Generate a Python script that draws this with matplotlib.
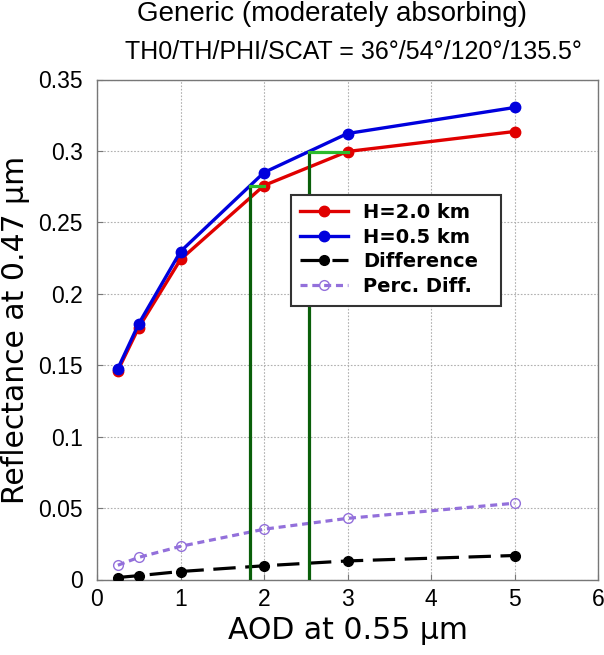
import numpy as np
import matplotlib
matplotlib.use("Agg")
import matplotlib.pyplot as plt
from matplotlib.patches import Rectangle

aod = [0.25, 0.5, 1, 2, 3, 5]
refl_h20 = [0.1463, 0.1764, 0.2240, 0.2758, 0.2996, 0.3136]
refl_h05 = [0.1477, 0.1790, 0.2296, 0.2849, 0.3122, 0.3304]
difference = [0.0014, 0.0027, 0.0056, 0.0096, 0.0130, 0.0168]
perc_diff = [0.0100, 0.0155, 0.0232, 0.0352, 0.0428, 0.0534]
# red-curve points matched on the blue curve
match_x = [2, 3]

xticks = [0, 1, 2, 3, 4, 5, 6]
xticklabels = ["0", "1", "2", "3", "4", "5", "6"]
yticks = [0, 0.05, 0.1, 0.15, 0.2, 0.25, 0.3, 0.35]
yticklabels = ["0", "0.05", "0.1", "0.15", "0.2", "0.25", "0.3", "0.35"]

fig = plt.figure(figsize=(6.04, 6.55), dpi=100)
ax = fig.add_axes([97 / 604, 75.5 / 655, 501 / 604, 500 / 655])

ax.plot(aod, refl_h20, color="#e00000", lw=2.4, marker="o", ms=7.5, label="H=2.0 km", zorder=3)
ax.plot(aod, refl_h05, color="#0000dd", lw=2.4, marker="o", ms=7.5, label="H=0.5 km", zorder=4)
ax.plot(aod, difference, color="black", lw=2.3, ls=(0, (7, 3)), marker="o", ms=7, label="Difference", zorder=3)
ax.plot(aod, perc_diff, color="#9370db", lw=2.3, ls=(0, (2.2, 1.5)), marker="o", ms=7,
        mfc="none", mew=1.0, label="Perc. Diff.", zorder=3)

# green match lines
for xm in match_x:
    yv = refl_h20[aod.index(xm)]
    xc = np.interp(yv, refl_h05, aod)
    ax.plot([xc, xc], [0, yv], color="#0a5f0a", lw=2.3, zorder=5)
    ax.plot([xc, xm], [yv, yv], color="#2cbb2c", lw=2.3, zorder=5)

ax.set_xlim(0, 6)
ax.set_ylim(0, 0.35)
ax.set_xticks(xticks)
ax.set_xticklabels(xticklabels, family="Liberation Sans", fontsize=16.5)
ax.set_yticks(yticks)
ax.set_yticklabels(yticklabels, family="Liberation Sans", fontsize=16.5)
ax.tick_params(direction="in", length=4, color="#777777")
ax.tick_params(axis="x", pad=6)
ax.tick_params(axis="y", pad=10)
ax.grid(True, color="#b0b0b0", ls=(0, (1.5, 1.5)), lw=0.8)
for s in ax.spines.values():
    s.set_color("#777777")
    s.set_linewidth(1.0)

ax.set_xlabel("AOD at 0.55 µm", fontsize=21.5, family="DejaVu Sans", labelpad=4)
ax.set_ylabel("Reflectance at 0.47 µm", fontsize=21.5, family="DejaVu Sans", labelpad=6)

fig.text(332 / 604, 1 - 1 / 655, "Generic (moderately absorbing)", ha="center", va="top",
         fontsize=20, family="Liberation Sans")
fig.text(353 / 604, 1 - 40 / 655, "TH0/TH/PHI/SCAT = 36°/54°/120°/135.5°", ha="center", va="top",
         fontsize=18, family="Liberation Sans")

# legend box drawn as a separate frame so it can be wider than its content
ax.add_patch(Rectangle((0.387, 0.547), 0.419, 0.223, transform=ax.transAxes,
                       facecolor="white", edgecolor="#333333", lw=1.5, zorder=9))
leg = ax.legend(loc="upper left", bbox_to_anchor=(0.387, 0.770),
                prop={"weight": "bold", "size": 14}, frameon=False,
                handlelength=2.5, handletextpad=0.75, borderpad=0.45, labelspacing=0.28,
                borderaxespad=0)
leg.set_zorder(10)

fig.savefig("out.png", dpi=100)
